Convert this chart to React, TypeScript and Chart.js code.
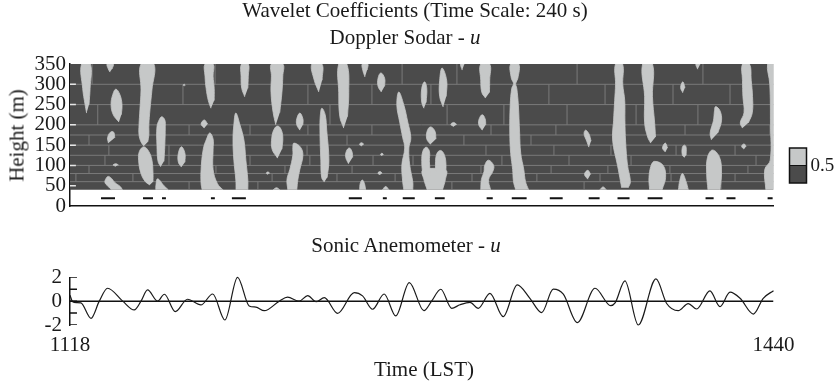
import React, { useEffect, useRef } from 'react';
import { Chart, registerables } from 'chart.js';

Chart.register(...registerables);

const SERIF = '"Liberation Serif", "Times New Roman", serif';
const DARK = '#4b4b4b';
const LIGHT = '#c6c8c8';
const BRICK = '#7a7a7a';

const T_MIN = 1118;
const T_MAX = 1440;

// ---------- Doppler sodar wavelet panel ----------
const heightTicks = [0, 50, 100, 150, 200, 250, 300, 350];
const innerTickHeights = [50, 100, 150, 200, 250, 300];
const gateBottom = 40;
const gateTop = 350;
const gateHeights = [60, 80, 100, 125, 150, 175, 200, 250, 300];

// vertical patch edges: [time, lower height, upper height]
const patchEdges: [number, number, number][] = [
  [1128.1, 300, 350], [1130.7, 200, 250], [1126.7, 150, 175], [1135.8, 125, 150], [1134.0, 100, 125],
  [1126.7, 80, 100], [1120.7, 60, 80], [1146.8, 60, 80], [1163.3, 100, 150], [1172.5, 175, 200],
  [1169.7, 250, 300], [1184.4, 300, 350], [1184.8, 80, 100], [1172.5, 40, 60], [1226.9, 250, 300],
  [1237.0, 200, 250], [1200.4, 175, 200], [1226.9, 175, 200], [1244.8, 150, 175], [1226.5, 125, 150],
  [1200.4, 100, 125], [1227.8, 100, 125], [1256.7, 100, 125], [1216.4, 80, 100], [1247.1, 80, 100],
  [1210.5, 60, 80], [1240.2, 60, 80], [1266.8, 60, 80], [1204.0, 40, 60], [1256.2, 250, 300],
  [1270.0, 300, 350], [1256.2, 175, 200], [1275.0, 100, 125], [1295.1, 300, 350], [1350.1, 300, 350],
  [1283.2, 250, 300], [1337.2, 250, 300], [1290.6, 200, 250], [1316.6, 200, 250], [1345.5, 200, 250],
  [1310.7, 175, 200], [1340.4, 175, 200], [1298.3, 150, 175], [1329.0, 150, 175], [1308.4, 125, 150],
  [1339.5, 125, 150], [1315.7, 100, 125], [1346.4, 100, 125], [1306.1, 80, 100], [1338.2, 80, 100],
  [1302.0, 60, 80], [1331.7, 60, 80], [1292.8, 40, 60], [1353.3, 40, 60], [1407.7, 300, 350],
  [1362.9, 250, 300], [1394.0, 250, 300], [1420.1, 250, 300], [1370.2, 200, 250], [1377.1, 200, 250],
  [1405.4, 200, 250], [1366.5, 175, 200], [1399.5, 175, 200], [1438.4, 175, 200], [1365.6, 125, 150],
  [1395.4, 125, 150], [1422.4, 125, 150], [1374.8, 100, 125], [1432.0, 100, 125], [1364.2, 80, 100],
  [1392.6, 80, 100], [1428.3, 80, 100], [1360.6, 60, 80], [1393.1, 60, 80], [1422.4, 60, 80],
  [1416.0, 40, 60],
];

// regions where coefficient > 0.5: rows of [height, left time, right time]
const lightRegions: [number, number, number][][] = [
  [[229, 1125.6, 1125.6], [250, 1124.9, 1126.7], [290, 1123.8, 1127.2], [350, 1123.3, 1127.3]],
  [[330, 1136.3, 1136.3], [338, 1135.5, 1137.3], [350, 1135.0, 1137.8]],
  [[207, 1140.4, 1140.4], [225, 1137.8, 1141.5], [250, 1136.8, 1141.8], [275, 1137.6, 1140.8], [288, 1139.0, 1139.0]],
  [[155, 1135.6, 1135.6], [168, 1135.2, 1138.5], [182, 1136.5, 1138.0]],
  [[98, 1139.0, 1139.0], [101, 1137.7, 1140.2], [104, 1139.0, 1139.0]],
  [[40, 1137.0, 1142.0], [48, 1135.5, 1141.0], [58, 1134.0, 1138.5], [68, 1134.5, 1137.0], [73, 1135.5, 1135.5]],
  [[148, 1151.8, 1151.8], [158, 1150.5, 1153.6], [175, 1149.6, 1154.1], [200, 1149.6, 1154.1], [237, 1150.0, 1154.6], [286, 1150.5, 1155.5], [350, 1150.5, 1156.4]],
  [[52, 1154.5, 1154.5], [60, 1152.5, 1156.0], [80, 1150.5, 1156.0], [113, 1149.4, 1155.5], [135, 1149.8, 1154.0], [146, 1151.8, 1151.8]],
  [[40, 1157.3, 1163.0], [50, 1157.3, 1161.0], [67, 1158.1, 1158.1]],
  [[97, 1159.5, 1159.5], [110, 1158.3, 1161.0], [150, 1157.8, 1161.4], [195, 1157.8, 1161.6], [212, 1158.8, 1161.4], [220, 1160.0, 1160.0]],
  [[96, 1169.0, 1169.0], [108, 1167.6, 1170.6], [130, 1167.6, 1170.6], [146, 1169.0, 1169.0]],
  [[296, 1170.3, 1170.3], [298, 1169.8, 1170.8], [300, 1170.3, 1170.3]],
  [[192, 1179.5, 1179.5], [202, 1178.0, 1181.0], [212, 1179.5, 1179.5]],
  [[40, 1178.5, 1188.0], [55, 1178.0, 1185.5], [90, 1178.0, 1183.5], [140, 1179.0, 1183.5], [165, 1180.5, 1183.5], [180, 1182.0, 1182.0]],
  [[241, 1182.5, 1182.5], [260, 1181.3, 1184.0], [290, 1180.3, 1184.0], [320, 1179.8, 1183.5], [350, 1179.8, 1183.5]],
  [[40, 1194.0, 1199.4], [64, 1193.9, 1199.4], [113, 1193.0, 1198.5], [163, 1192.6, 1197.6], [200, 1193.0, 1195.8], [229, 1193.9, 1193.9]],
  [[269, 1198.0, 1198.0], [290, 1196.6, 1199.4], [320, 1196.3, 1199.6], [350, 1196.5, 1199.6]],
  [[200, 1212.2, 1212.2], [230, 1211.0, 1214.0], [280, 1210.0, 1215.0], [320, 1210.2, 1215.4], [350, 1210.2, 1215.4]],
  [[118, 1213.0, 1213.0], [140, 1210.5, 1215.0], [170, 1210.4, 1215.4], [190, 1211.5, 1214.5], [197, 1213.0, 1213.0]],
  [[40, 1211.0, 1214.0], [45, 1212.5, 1212.5]],
  [[78, 1208.6, 1208.6], [81, 1207.8, 1209.4], [84, 1208.6, 1208.6]],
  [[40, 1217.7, 1221.8], [65, 1217.3, 1222.3], [90, 1218.6, 1223.2], [125, 1220.0, 1224.6], [145, 1220.0, 1223.5], [155, 1220.5, 1220.5]],
  [[187, 1223.2, 1223.2], [200, 1221.8, 1224.6], [215, 1221.8, 1224.6], [229, 1223.2, 1223.2]],
  [[281, 1231.9, 1231.9], [310, 1229.8, 1233.4], [350, 1228.7, 1233.3]],
  [[59, 1234.4, 1234.4], [70, 1233.2, 1235.7], [113, 1232.8, 1236.5], [187, 1232.4, 1235.5], [225, 1232.6, 1234.8], [241, 1233.3, 1233.3]],
  [[192, 1243.3, 1243.3], [220, 1241.5, 1245.0], [280, 1241.0, 1245.6], [350, 1241.0, 1244.7]],
  [[104, 1245.5, 1245.5], [120, 1244.2, 1247.4], [135, 1244.5, 1247.0], [143, 1245.8, 1245.8]],
  [[40, 1250.6, 1253.3], [55, 1250.8, 1252.8], [64, 1251.8, 1251.8]],
  [[148, 1251.5, 1251.5], [152, 1250.5, 1252.5], [156, 1251.5, 1251.5]],
  [[318, 1253.0, 1253.0], [335, 1252.0, 1254.0], [350, 1251.8, 1254.3]],
  [[77, 1259.9, 1259.9], [81, 1258.9, 1260.9], [85, 1259.9, 1259.9]],
  [[124, 1260.8, 1260.8], [127, 1260.1, 1261.5], [130, 1260.8, 1260.8]],
  [[281, 1260.5, 1260.5], [295, 1259.0, 1262.0], [315, 1259.0, 1262.0], [328, 1260.3, 1260.3]],
  [[40, 1261.0, 1264.0], [48, 1262.5, 1262.5]],
  [[40, 1270.8, 1274.9], [59, 1270.3, 1274.9], [101, 1269.9, 1273.5], [143, 1271.2, 1273.1], [168, 1270.3, 1274.0], [207, 1268.9, 1272.6], [249, 1267.6, 1270.8], [281, 1268.5, 1268.5]],
  [[241, 1280.0, 1280.0], [255, 1279.0, 1281.0], [290, 1279.0, 1281.3], [306, 1280.3, 1280.3]],
  [[244, 1288.8, 1288.8], [270, 1287.2, 1290.2], [310, 1287.2, 1290.4], [340, 1288.3, 1288.3]],
  [[152, 1283.0, 1283.0], [165, 1281.3, 1285.5], [185, 1281.5, 1285.0], [195, 1283.0, 1283.0]],
  [[75, 1279.5, 1283.0], [110, 1279.0, 1282.5], [135, 1279.5, 1282.5], [145, 1281.0, 1281.0]],
  [[75, 1285.5, 1290.0], [110, 1285.3, 1290.0], [130, 1286.0, 1289.0], [137, 1287.5, 1287.5]],
  [[40, 1281.5, 1288.5], [65, 1280.0, 1289.8], [88, 1279.5, 1290.0]],
  [[196, 1293.6, 1293.6], [201, 1292.3, 1295.0], [206, 1293.6, 1293.6]],
  [[335, 1297.5, 1297.5], [350, 1296.8, 1298.5]],
  [[187, 1306.7, 1306.7], [200, 1305.1, 1308.3], [215, 1305.3, 1308.0], [225, 1306.7, 1306.7]],
  [[266, 1308.2, 1308.2], [280, 1306.5, 1310.0], [310, 1306.0, 1310.1], [350, 1306.0, 1310.1]],
  [[40, 1306.0, 1310.5], [65, 1306.3, 1309.6], [85, 1307.5, 1311.5], [100, 1307.8, 1311.9], [113, 1309.5, 1309.5]],
  [[40, 1322.0, 1327.9], [60, 1321.0, 1326.5], [90, 1320.6, 1325.7], [130, 1319.7, 1324.3], [180, 1319.3, 1323.8], [250, 1319.5, 1323.2], [290, 1320.2, 1322.5], [302, 1321.0, 1322.0], [315, 1320.0, 1323.0], [350, 1319.7, 1323.4]],
  [[145, 1355.5, 1355.5], [160, 1354.5, 1356.5], [178, 1353.3, 1355.5], [187, 1354.0, 1354.0]],
  [[66, 1355.0, 1355.0], [78, 1353.5, 1356.3], [88, 1355.0, 1355.0]],
  [[40, 1360.5, 1363.5], [47, 1362.0, 1362.0]],
  [[45, 1370.5, 1373.5], [60, 1370.0, 1374.5], [100, 1368.6, 1373.2], [160, 1366.4, 1372.3], [210, 1366.8, 1372.0], [260, 1367.3, 1371.9], [300, 1367.7, 1371.0], [350, 1367.7, 1370.9]],
  [[155, 1383.8, 1383.8], [170, 1382.4, 1386.0], [205, 1381.0, 1385.6], [270, 1381.0, 1384.6], [350, 1380.1, 1384.6]],
  [[40, 1383.3, 1389.0], [70, 1383.0, 1390.6], [100, 1384.0, 1389.5], [110, 1385.6, 1385.6]],
  [[133, 1390.5, 1390.5], [143, 1389.2, 1391.5], [155, 1390.5, 1390.5]],
  [[40, 1396.5, 1401.0], [60, 1397.0, 1400.0], [80, 1398.3, 1398.3]],
  [[120, 1399.3, 1399.3], [125, 1398.3, 1400.0], [145, 1398.3, 1400.0], [150, 1399.3, 1399.3]],
  [[279, 1398.5, 1398.5], [292, 1397.5, 1399.5], [306, 1398.5, 1398.5]],
  [[337, 1405.3, 1405.3], [350, 1404.5, 1406.5]],
  [[163, 1411.6, 1411.6], [180, 1411.0, 1414.5], [210, 1412.5, 1416.2], [235, 1413.0, 1415.5], [245, 1413.5, 1413.5]],
  [[40, 1410.0, 1415.5], [80, 1409.4, 1416.2], [120, 1409.8, 1415.3], [138, 1412.1, 1412.1]],
  [[192, 1425.8, 1425.8], [205, 1424.8, 1428.5], [230, 1426.5, 1430.3], [270, 1426.0, 1430.4], [310, 1425.8, 1429.8], [350, 1425.8, 1429.0]],
  [[140, 1426.5, 1426.5], [147, 1425.4, 1427.5], [153, 1426.5, 1426.5]],
  [[40, 1436.5, 1440], [90, 1436.0, 1440], [113, 1438.5, 1440], [200, 1438.6, 1440], [300, 1438.3, 1440], [350, 1437.3, 1440]],
];

// event markers below the gates
const markerHeight = 19;
const markerStarts = [1132.2, 1151.4, 1160.1, 1182.5, 1192.1, 1245.6, 1261.2, 1270.3, 1285.0, 1308.7, 1320.2, 1337.6, 1355.4, 1368.6, 1382.4, 1408.9, 1418.5, 1437.3];
const markerEnds = [1138.6, 1156.0, 1161.9, 1184.3, 1198.5, 1251.6, 1263.0, 1275.8, 1289.5, 1311.5, 1327.0, 1343.5, 1360.4, 1374.1, 1389.2, 1412.6, 1422.6, 1439.6];

const colorbarLabels = ['0.5'];

// ---------- Sonic anemometer panel ----------
const sonicTimes = [
  1118, 1119.2, 1121, 1123, 1127.6, 1131.4, 1135.2, 1142.1, 1147.4, 1150.5, 1153.5, 1158.1, 1161.2, 1166.2,
  1171.8, 1177.9, 1183.3, 1188.9, 1194.7, 1200.0, 1203.1, 1206.9, 1213.8, 1217.6, 1222.9, 1226.8, 1230.6,
  1234.4, 1240.5, 1248.1, 1251.9, 1256.5, 1261.8, 1267.1, 1273.3, 1280.0, 1283.5, 1287.7, 1292.7, 1296.5,
  1301.1, 1304.9, 1310.2, 1316.3, 1322.7, 1328.5, 1333.9, 1339.2, 1343.8, 1350.2, 1358.3, 1365.5, 1367.5,
  1372.0, 1378.1, 1386.2, 1391.1, 1396.4, 1401.0, 1404.8, 1410.9, 1415.5, 1420.1, 1424.7, 1430.8, 1435.3, 1440,
];
const sonicValues = [
  0.5, -0.05, -0.12, -0.15, -1.44, 0, 1.08, 0, -0.74, 0, 0.94, 0, 0.58, -0.88,
  0.16, -0.32, 0.6, -1.58, 2.0, -0.4, -0.5, -0.8, 0.0, 0.33, 0.0, 0.46, -0.05,
  0.3, -1.02, 0.72, 0.44, -0.68, 0.6, -1.24, 1.56, -0.8, 0, 1.0, -0.6, -0.3,
  -0.1, -0.6, 0.66, -1.3, 1.36, 0.24, -0.96, 1.0, 0.58, -1.8, 1.08, -0.38, -0.15,
  1.7, -2.0, 1.86, -0.2, -0.8, -0.2, -0.66, 0.86, -0.46, 0.75, 0.24, -1.08, 0.24, 0.88,
];
const sonicTickValues = [-2, -1, 0, 1, 2];
const sonicLabelValues = [-2, 0, 2];
const timeLabels = [T_MIN, T_MAX];

type Pt = { x: number; y: number | null };

function regionPoints(rows: [number, number, number][]): Pt[] {
  const pts: Pt[] = rows.map(([h, l]) => ({ x: l, y: h }));
  for (let i = rows.length - 1; i >= 0; i--) {
    const [h, l, r] = rows[i];
    if (r !== l) pts.push({ x: r, y: h });
  }
  return pts;
}

function segments(list: [number, number, number, number][]): Pt[] {
  const out: Pt[] = [];
  list.forEach(([x0, y0, x1, y1]) => {
    out.push({ x: x0, y: y0 }, { x: x1, y: y1 }, { x: x1, y: null });
  });
  return out;
}

const colorbarPlugin = {
  id: 'colorbar',
  afterDraw(chart: any) {
    const { ctx, chartArea } = chart;
    const x = chartArea.right + 16;
    const w = 17;
    const y0 = 148;
    const h = 35;
    ctx.save();
    ctx.fillStyle = LIGHT;
    ctx.fillRect(x, y0, w, h / 2);
    ctx.fillStyle = DARK;
    ctx.fillRect(x, y0 + h / 2, w, h / 2);
    ctx.strokeStyle = '#111';
    ctx.lineWidth = 1.5;
    ctx.strokeRect(x, y0, w, h);
    ctx.beginPath();
    ctx.moveTo(x, y0 + h / 2);
    ctx.lineTo(x + w, y0 + h / 2);
    ctx.lineWidth = 1;
    ctx.stroke();
    ctx.fillStyle = '#1a1a1a';
    ctx.font = `19px ${SERIF}`;
    ctx.textBaseline = 'middle';
    ctx.textAlign = 'left';
    ctx.fillText(colorbarLabels[0], x + w + 4, y0 + h / 2 + 1);
    ctx.restore();
  },
};

const TICK_FONT = { family: SERIF, size: 21 };

export default function App() {
  const topRef = useRef<HTMLCanvasElement>(null);
  const botRef = useRef<HTMLCanvasElement>(null);

  useEffect(() => {
    const gateLines = segments(gateHeights.map((h) => [T_MIN, h, T_MAX, h] as [number, number, number, number]));
    const edgeLines = segments(patchEdges.map(([t, a, b]) => [t, a, t, b] as [number, number, number, number]));
    const innerTicks = segments(innerTickHeights.map((h) => [T_MIN, h, T_MIN + 2.7, h] as [number, number, number, number]));
    const markers = segments(markerStarts.map((s, i) => [s, markerHeight, markerEnds[i], markerHeight] as [number, number, number, number]));

    const top = new Chart(topRef.current!, {
      type: 'line',
      data: {
        datasets: [
          {
            data: [{ x: T_MIN, y: gateTop }, { x: T_MAX, y: gateTop }],
            fill: { value: gateBottom },
            backgroundColor: DARK,
            borderWidth: 0,
            pointRadius: 0,
            order: 100,
          } as any,
          { data: gateLines, borderColor: BRICK, borderWidth: 1, pointRadius: 0, fill: false, order: 90 } as any,
          { data: edgeLines, borderColor: BRICK, borderWidth: 1, pointRadius: 0, fill: false, order: 89 } as any,
          ...lightRegions.map(
            (rows) =>
              ({
                data: regionPoints(rows),
                fill: 'shape',
                backgroundColor: LIGHT,
                borderColor: LIGHT,
                borderWidth: 0.8,
                tension: 0.4,
                pointRadius: 0,
                order: 50,
              }) as any,
          ),
          { data: innerTicks, borderColor: '#e6e6e6', borderWidth: 1.5, pointRadius: 0, fill: false, order: 10 } as any,
          { data: markers, borderColor: '#111', borderWidth: 2, pointRadius: 0, fill: false, order: 5 } as any,
        ],
      },
      options: {
        animation: false,
        responsive: false,
        maintainAspectRatio: false,
        events: [],
        layout: { padding: { left: 0, right: 834 - 773.5, top: 64, bottom: 230 - 206 } },
        plugins: { legend: { display: false }, tooltip: { enabled: false }, title: { display: false } },
        elements: { point: { radius: 0 }, line: { capBezierPoints: true } },
        scales: {
          x: {
            type: 'linear',
            min: T_MIN,
            max: T_MAX,
            ticks: { display: false },
            grid: { display: false, drawTicks: false },
            border: { display: true, color: '#111', width: 1.5 },
            afterFit: (s: any) => {
              s.height = 0;
            },
          },
          y: {
            type: 'linear',
            min: 0,
            max: 350,
            afterBuildTicks: (s: any) => {
              s.ticks = heightTicks.map((v) => ({ value: v }));
            },
            ticks: { color: '#1a1a1a', font: TICK_FONT, padding: 4, autoSkip: false },
            grid: { display: false, drawTicks: false },
            border: { display: true, color: '#111', width: 1.5 },
            afterFit: (s: any) => {
              s.width = 70;
            },
          },
        },
      } as any,
      plugins: [colorbarPlugin],
    });

    const sonicTickSegs = segments(sonicTickValues.map((v) => [T_MIN, v, T_MIN + 3.2, v] as [number, number, number, number]));

    const bottom = new Chart(botRef.current!, {
      type: 'line',
      data: {
        datasets: [
          {
            data: [{ x: T_MIN, y: 0 }, { x: T_MAX, y: 0 }],
            borderColor: '#111',
            borderWidth: 1.5,
            pointRadius: 0,
            fill: false,
            order: 20,
          } as any,
          {
            data: sonicTimes.map((t, i) => ({ x: t, y: sonicValues[i] })),
            borderColor: '#1a1a1a',
            borderWidth: 1.2,
            pointRadius: 0,
            fill: false,
            cubicInterpolationMode: 'monotone',
            clip: false,
            order: 10,
          } as any,
          { data: sonicTickSegs, borderColor: '#111', borderWidth: 1.5, pointRadius: 0, fill: false, order: 5 } as any,
        ],
      },
      options: {
        animation: false,
        responsive: false,
        maintainAspectRatio: false,
        events: [],
        layout: { padding: { left: 0, right: 834 - 773.5, top: 277.3 - 230, bottom: 0 } },
        plugins: { legend: { display: false }, tooltip: { enabled: false }, title: { display: false } },
        elements: { point: { radius: 0 } },
        scales: {
          x: {
            type: 'linear',
            min: T_MIN,
            max: T_MAX,
            afterBuildTicks: (s: any) => {
              s.ticks = timeLabels.map((v) => ({ value: v }));
            },
            ticks: { color: '#1a1a1a', font: TICK_FONT, padding: 8, maxRotation: 0, autoSkip: false, callback: (v: any) => String(v) },
            grid: { display: false, drawTicks: false },
            border: { display: false },
            afterFit: (s: any) => {
              s.height = 154 - 95;
            },
          },
          y: {
            type: 'linear',
            min: -2,
            max: 2,
            afterBuildTicks: (s: any) => {
              s.ticks = sonicLabelValues.map((v) => ({ value: v }));
            },
            ticks: { color: '#1a1a1a', font: TICK_FONT, padding: 8, autoSkip: false },
            grid: { display: false, drawTicks: false },
            border: { display: true, color: '#111', width: 1.5 },
            afterFit: (s: any) => {
              s.width = 70;
            },
          },
        },
      } as any,
    });

    return () => {
      top.destroy();
      bottom.destroy();
    };
  }, []);

  const textBase: React.CSSProperties = {
    position: 'absolute',
    fontFamily: SERIF,
    fontSize: 21,
    lineHeight: '21px',
    color: '#1a1a1a',
    whiteSpace: 'nowrap',
    width: 600,
    textAlign: 'center',
  };

  return (
    <div style={{ position: 'absolute', left: 0, top: 0, width: 834, height: 384, background: '#fff', overflow: 'hidden' }}>
      <canvas ref={topRef} width={834} height={230} style={{ position: 'absolute', left: 0, top: 0, width: 834, height: 230 }} />
      <canvas ref={botRef} width={834} height={154} style={{ position: 'absolute', left: 0, top: 230, width: 834, height: 154 }} />
      <div style={{ ...textBase, left: 415 - 300, top: 0 }}>Wavelet Coefficients (Time Scale: 240 s)</div>
      <div style={{ ...textBase, left: 405 - 300, top: 27 }}>
        Doppler Sodar - <i>u</i>
      </div>
      <div style={{ ...textBase, left: 406 - 300, top: 235 }}>
        Sonic Anemometer - <i>u</i>
      </div>
      <div style={{ ...textBase, left: 424 - 300, top: 359 }}>Time (LST)</div>
      <div
        style={{
          ...textBase,
          width: 200,
          left: 17 - 100,
          top: 135 - 10.5,
          transform: 'rotate(-90deg)',
          transformOrigin: '50% 50%',
        }}
      >
        Height (m)
      </div>
    </div>
  );
}
